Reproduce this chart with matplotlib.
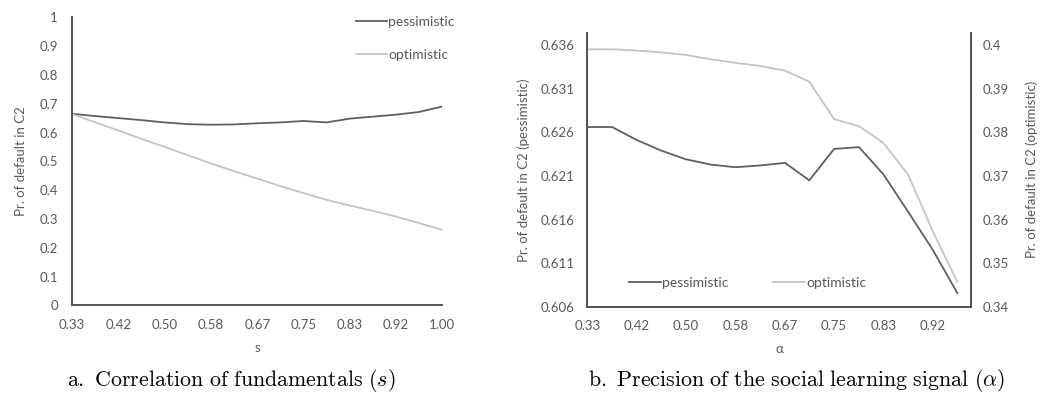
import matplotlib
matplotlib.use("Agg")
import matplotlib.pyplot as plt

plt.rcParams['font.family'] = ['Lato', 'DejaVu Sans']
plt.rcParams['mathtext.fontset'] = 'cm'

#%% Data

# panel a: correlation of fundamentals
s_vals = [0.333, 0.375, 0.417, 0.458, 0.500, 0.542, 0.583, 0.625, 0.667,
          0.708, 0.750, 0.792, 0.833, 0.875, 0.917, 0.958, 1.000]
pess_s = [0.665, 0.657, 0.650, 0.643, 0.635, 0.629, 0.627, 0.628, 0.632,
          0.635, 0.640, 0.635, 0.648, 0.655, 0.662, 0.671, 0.690]
opt_s = [0.664, 0.635, 0.607, 0.578, 0.550, 0.521, 0.493, 0.466, 0.440,
         0.414, 0.390, 0.366, 0.347, 0.328, 0.308, 0.286, 0.262]
s_ticks = [0.333, 0.417, 0.500, 0.583, 0.667, 0.750, 0.833, 0.917, 1.000]
s_ticklabels = ['0.33', '0.42', '0.50', '0.58', '0.67', '0.75', '0.83', '0.92', '1.00']
ya_ticks = [0, 0.1, 0.2, 0.3, 0.4, 0.5, 0.6, 0.7, 0.8, 0.9, 1.0]
ya_ticklabels = ['0', '0.1', '0.2', '0.3', '0.4', '0.5', '0.6', '0.7', '0.8', '0.9', '1']

# panel b: precision of the social learning signal
a_vals = [0.333, 0.375, 0.417, 0.458, 0.500, 0.542, 0.583, 0.625, 0.667,
          0.708, 0.750, 0.792, 0.833, 0.875, 0.917, 0.958]
pess_a = [0.6266, 0.6266, 0.6251, 0.6239, 0.6229, 0.6223, 0.6220, 0.6222,
          0.6225, 0.6205, 0.6241, 0.6243, 0.6212, 0.6169, 0.6125, 0.6076]
opt_a = [0.3990, 0.3990, 0.3987, 0.3983, 0.3977, 0.3967, 0.3959, 0.3952,
         0.3941, 0.3916, 0.3830, 0.3814, 0.3776, 0.3703, 0.3572, 0.3458]
a_ticks = [0.333, 0.417, 0.500, 0.583, 0.667, 0.750, 0.833, 0.917]
a_ticklabels = ['0.33', '0.42', '0.50', '0.58', '0.67', '0.75', '0.83', '0.92']
yl_ticks = [0.606, 0.611, 0.616, 0.621, 0.626, 0.631, 0.636]
yl_ticklabels = ['0.606', '0.611', '0.616', '0.621', '0.626', '0.631', '0.636']
yr_ticks = [0.34, 0.35, 0.36, 0.37, 0.38, 0.39, 0.40]
yr_ticklabels = ['0.34', '0.35', '0.36', '0.37', '0.38', '0.39', '0.4']

#%% Style

dark = '#5f5f5f'
light = '#c4c4c4'
txt = '#595959'
spine_c = '#555555'
fs = 9.5
lfs = 10

fig = plt.figure(figsize=(10.48, 3.94), dpi=100)

#%% Panel a

ax = fig.add_axes([0.0687, 0.2251, 0.353, 0.731])
ax.plot(s_vals, pess_s, color=dark, lw=1.3, label='pessimistic')
ax.plot(s_vals, opt_s, color=light, lw=1.3, label='optimistic')
ax.set_xlim(0.333, 1.0)
ax.set_ylim(0, 1)
ax.set_xticks(s_ticks)
ax.set_xticklabels(s_ticklabels)
ax.set_yticks(ya_ticks)
ax.set_yticklabels(ya_ticklabels)
ax.tick_params(length=0, labelsize=fs, labelcolor=txt)
ax.tick_params(axis='x', pad=10)
ax.tick_params(axis='y', pad=10)
for sp in ['top', 'right']:
    ax.spines[sp].set_visible(False)
for sp in ['left', 'bottom']:
    ax.spines[sp].set_color(spine_c)
    ax.spines[sp].set_linewidth(1.4)
ax.set_xlabel('s', fontsize=fs, color=txt, labelpad=8)
ax.set_ylabel('Pr. of default in C2', fontsize=fs, color=txt, labelpad=9)
ax.legend(loc='upper left', bbox_to_anchor=(356 / 1048, 1 - 16 / 394),
          bbox_transform=fig.transFigure, frameon=False, fontsize=lfs,
          labelcolor=txt, handlelength=2.2, handletextpad=0.1,
          labelspacing=1.5, borderpad=0, borderaxespad=0)

fig.text(231 / 1048, 1 - 380 / 394, r'$\mathrm{a.\ Correlation\ of\ fundamentals\ }(s)$',
         ha='center', va='center', fontsize=15.8)

#%% Panel b

bx = fig.add_axes([0.5604, 0.2208, 0.3666, 0.6962])
l1, = bx.plot(a_vals, pess_a, color=dark, lw=1.3, label='pessimistic')
bx.set_xlim(0.333, 0.982)
bx.set_ylim(0.606, 0.6374)
bx.set_xticks(a_ticks)
bx.set_xticklabels(a_ticklabels)
bx.set_yticks(yl_ticks)
bx.set_yticklabels(yl_ticklabels)
bx.tick_params(length=0, labelsize=fs, labelcolor=txt)
bx.tick_params(axis='x', pad=9)
bx.tick_params(axis='y', pad=9)
bx.set_xlabel(r'α', fontsize=fs, color=txt, labelpad=8)
bx.set_ylabel('Pr. of default in C2 (pessimistic)', fontsize=fs, color=txt, labelpad=8)

bx2 = bx.twinx()
l2, = bx2.plot(a_vals, opt_a, color=light, lw=1.3, label='optimistic')
bx2.set_ylim(0.34, 0.34 + (0.6374 - 0.606) * 2)
bx2.set_yticks(yr_ticks)
bx2.set_yticklabels(yr_ticklabels)
bx2.tick_params(length=0, labelsize=fs, labelcolor=txt, pad=8)
bx2.set_ylabel('Pr. of default in C2 (optimistic)', fontsize=fs, color=txt, labelpad=12)

for a in (bx, bx2):
    a.spines['top'].set_visible(False)
    for sp in ['left', 'bottom', 'right']:
        a.spines[sp].set_color(spine_c)
        a.spines[sp].set_linewidth(1.4)

bx.legend([l1, l2], ['pessimistic', 'optimistic'], loc='center left',
          bbox_to_anchor=(629 / 1048, 1 - 283 / 394), bbox_transform=fig.transFigure,
          ncol=2, frameon=False, fontsize=lfs, labelcolor=txt, handlelength=2.3,
          handletextpad=0.1, columnspacing=3.2, borderpad=0, borderaxespad=0)

fig.text(797 / 1048, 1 - 380 / 394,
         r'$\mathrm{b.\ Precision\ of\ the\ social\ learning\ signal\ }(\alpha)$',
         ha='center', va='center', fontsize=15.8)

fig.savefig('out.png', dpi=100)
